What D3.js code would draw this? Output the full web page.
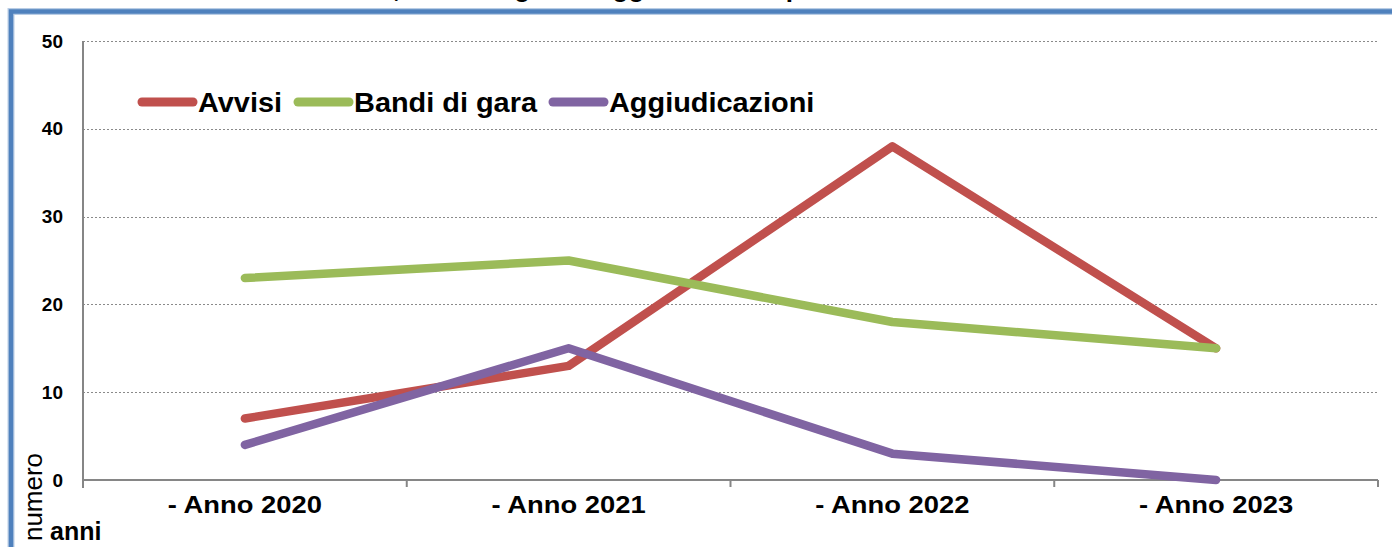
<!DOCTYPE html>
<html>
<head>
<meta charset="utf-8">
<script src="https://cdn.jsdelivr.net/npm/d3@7"></script>
<style>
  html, body { margin: 0; padding: 0; background: #fff; overflow: hidden; }
  svg { display: block; font-family: "Liberation Sans", Arial, sans-serif; }
</style>
</head>
<body>
<svg id="chart" width="1392" height="547"></svg>
<script>
const categories = ["- Anno 2020", "- Anno 2021", "- Anno 2022", "- Anno 2023"];
const seriesNames = ["Avvisi", "Bandi di gara", "Aggiudicazioni"];
const seriesColors = ["#C0504D", "#9BBB59", "#8064A2"];
const avvisi = [7, 13, 38, 15];
const bandiDiGara = [23, 25, 18, 15];
const aggiudicazioni = [4, 15, 3, 0];
const yTicks = [0, 10, 20, 30, 40, 50];
const titleText = "Avvisi, bandi di gara e aggiudicazioni per anno";
const yTitle = "numero";
const xTitle = "anni";

(function () {
const seriesValues = [avvisi, bandiDiGara, aggiudicazioni];

const svg = d3.select("#chart");
const pLeft = 83, pRight = 1378, pTop = 41, pBottom = 480;

const x = d3.scaleBand().domain(categories).range([pLeft, pRight]).padding(0);
const y = d3.scaleLinear().domain([0, 50]).range([pBottom, pTop]);

// outer chart border (extends past the picture on the right and bottom)
svg.append("rect")
  .attr("x", 11).attr("y", 11.5)
  .attr("width", 1500).attr("height", 700)
  .attr("fill", "none")
  .attr("stroke", "#B9CDE5").attr("stroke-width", 7);
svg.append("rect")
  .attr("x", 11).attr("y", 11.5)
  .attr("width", 1500).attr("height", 700)
  .attr("fill", "none")
  .attr("stroke", "#4F81BD").attr("stroke-width", 4.5);

// title (cut off above the picture, only descenders peek in)
const title = svg.append("text")
  .attr("y", -3)
  .attr("font-size", 26).attr("font-weight", "bold").attr("fill", "#000")
  .text("Avvisi, bandi di ");
const prefixW = title.node().getComputedTextLength();
title.attr("x", 507 - prefixW).text(titleText);

// gridlines
svg.append("g")
  .selectAll("line")
  .data(yTicks.filter(d => d > 0))
  .join("line")
  .attr("x1", pLeft).attr("x2", pRight)
  .attr("y1", d => Math.round(y(d)) + 0.5).attr("y2", d => Math.round(y(d)) + 0.5)
  .attr("stroke", "#8A8A8A").attr("stroke-width", 1.2)
  .attr("stroke-dasharray", "2,2");

// y axis labels
const yAxis = svg.append("g")
  .attr("transform", `translate(${pLeft},0)`)
  .call(d3.axisLeft(y).tickValues(yTicks).tickSize(0).tickPadding(20).tickFormat(d3.format("d")));
yAxis.select(".domain").remove();
yAxis.selectAll("text")
  .attr("font-family", "'Liberation Sans', Arial, sans-serif")
  .attr("font-size", 19).attr("font-weight", "bold").attr("fill", "#000");

// x axis labels
const xAxis = svg.append("g")
  .attr("transform", `translate(0,${pBottom})`)
  .call(d3.axisBottom(x).tickSize(0).tickPadding(0));
xAxis.select(".domain").remove();
xAxis.selectAll(".tick text")
  .attr("font-family", "'Liberation Sans', Arial, sans-serif")
  .attr("font-size", 23).attr("font-weight", "bold").attr("fill", "#000")
  .attr("dy", null)
  .attr("y", 33)
  .attr("transform", "scale(1.19,1)");

// axis lines
svg.append("line")
  .attr("x1", pLeft).attr("x2", pLeft)
  .attr("y1", pTop).attr("y2", pBottom + 8)
  .attr("stroke", "#868686").attr("stroke-width", 2);
svg.append("line")
  .attr("x1", pLeft).attr("x2", pRight)
  .attr("y1", pBottom).attr("y2", pBottom)
  .attr("stroke", "#868686").attr("stroke-width", 2);
const boundaries = categories.map(c => x(c)).concat([x.range()[1]]);
svg.append("g").selectAll("line")
  .data(boundaries)
  .join("line")
  .attr("x1", d => d).attr("x2", d => d)
  .attr("y1", pBottom).attr("y2", pBottom + 7)
  .attr("stroke", "#868686").attr("stroke-width", 2);

// series lines
const line = d3.line()
  .x((d, i) => x(categories[i]) + x.bandwidth() / 2)
  .y(d => y(d));
svg.append("g").selectAll("path")
  .data(seriesValues)
  .join("path")
  .attr("d", d => line(d))
  .attr("fill", "none")
  .attr("stroke", (d, i) => seriesColors[i])
  .attr("stroke-width", 8.5)
  .attr("stroke-linecap", "round")
  .attr("stroke-linejoin", "round");

// legend
const legendScale = 1.07;
let lx = 138;
const ly = 102;
seriesNames.forEach((name, i) => {
  svg.append("line")
    .attr("x1", lx + 4).attr("x2", lx + 55)
    .attr("y1", ly).attr("y2", ly)
    .attr("stroke", seriesColors[i]).attr("stroke-width", 9)
    .attr("stroke-linecap", "round");
  const t = svg.append("text")
    .attr("transform", `translate(${lx + 60},${ly + 10}) scale(${legendScale},1)`)
    .attr("font-size", 27).attr("font-weight", "bold").attr("fill", "#000")
    .text(name);
  lx = lx + 60 + t.node().getComputedTextLength() * legendScale + 12;
});

// axis titles
svg.append("text")
  .attr("transform", "translate(42,497) rotate(-90)")
  .attr("text-anchor", "middle")
  .attr("font-size", 26).attr("fill", "#000")
  .text(yTitle);
svg.append("text")
  .attr("x", 50).attr("y", 540)
  .attr("font-size", 25).attr("font-weight", "bold").attr("fill", "#000")
  .text(xTitle);
})();
</script>
</body>
</html>
